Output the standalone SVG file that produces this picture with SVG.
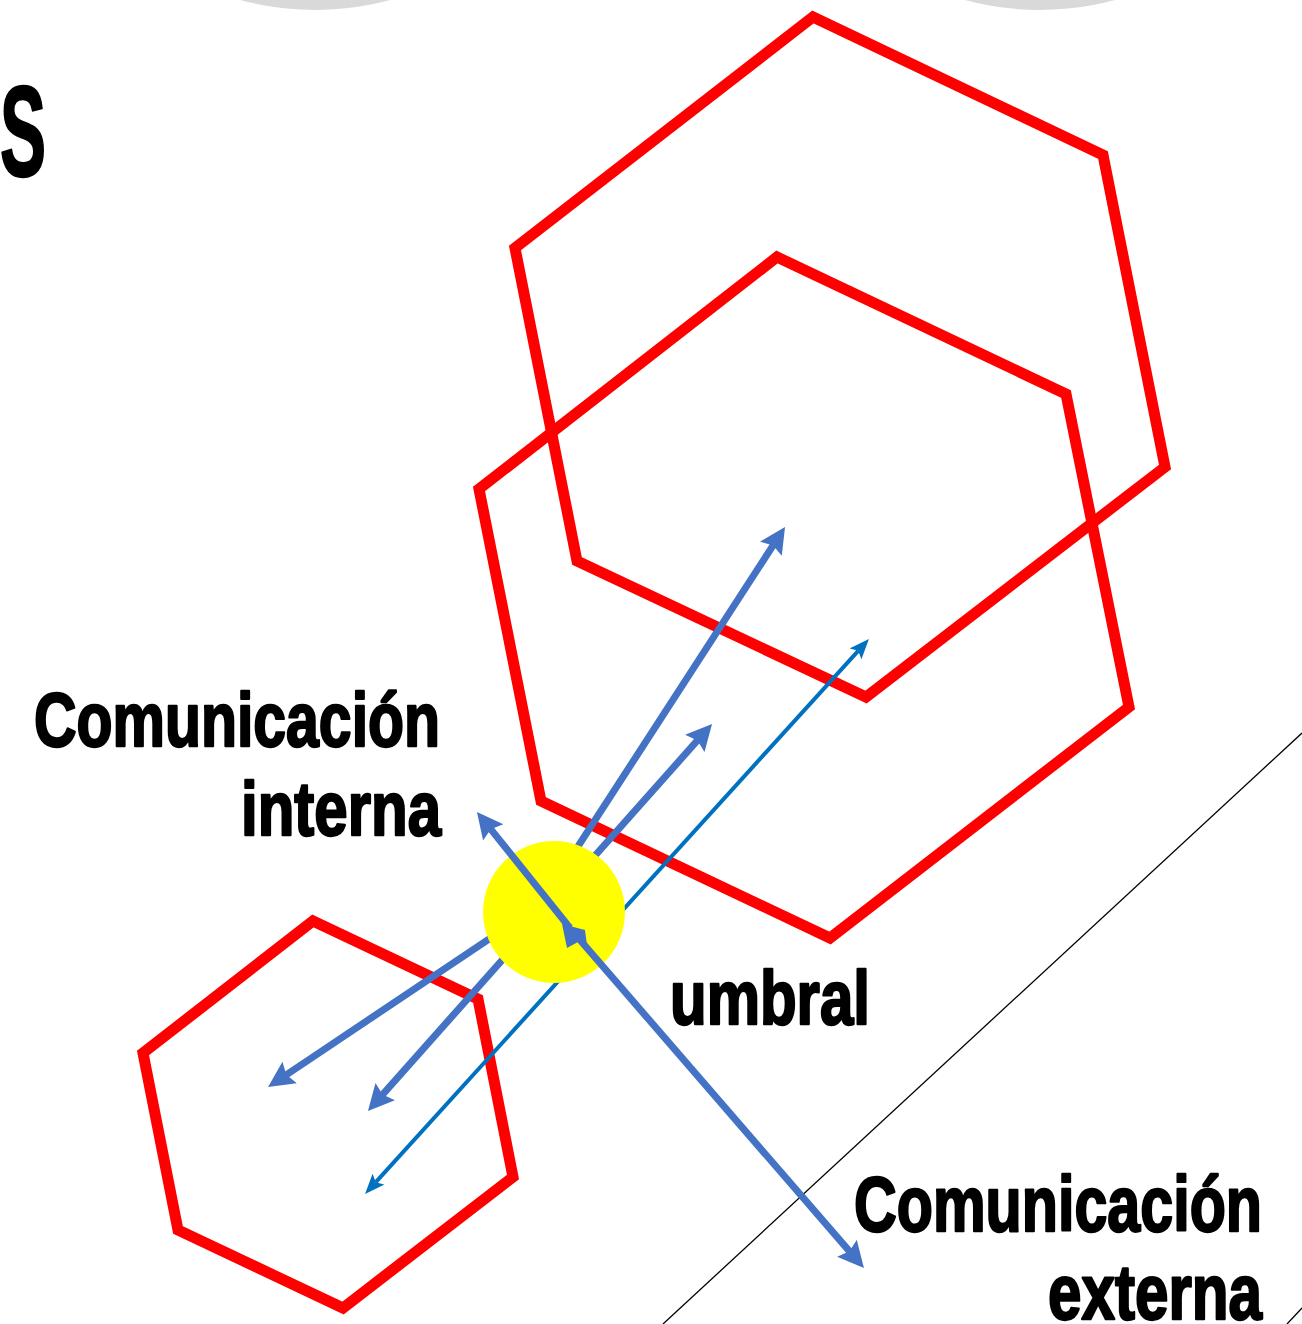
<svg xmlns="http://www.w3.org/2000/svg" width="1302" height="1324" viewBox="0 0 1302 1324">
  <style>
    .hex { fill: none; stroke: #FF0000; stroke-width: 11; stroke-linejoin: miter; }
    .arr { fill: none; stroke: #4472C4; stroke-width: 7; }
    .thin { fill: none; stroke: #0070C0; stroke-width: 4; }
    .lbl { font-family: "Liberation Sans", Arial, sans-serif; font-weight: bold; fill: #000; stroke: #000; stroke-width: 2.4; stroke-linejoin: round; }
    .rule { stroke: #000; stroke-width: 1.3; fill: none; }
  </style>
  <defs>
    <marker id="headBlue" markerUnits="userSpaceOnUse" markerWidth="30" markerHeight="28" refX="5" refY="13" orient="auto-start-reverse" viewBox="0 0 30 28">
      <path d="M0,0 L26,13 L0,26 L4,13 Z" fill="#4472C4"/>
    </marker>
    <marker id="headThin" markerUnits="userSpaceOnUse" markerWidth="22" markerHeight="18" refX="4" refY="8" orient="auto-start-reverse" viewBox="0 0 22 18">
      <path d="M0,0 L20,8 L0,16 L4,8 Z" fill="#0070C0"/>
    </marker>
  </defs>
  <rect width="1302" height="1324" fill="#FFFFFF"/>

  <g id="background">
    <circle cx="315" cy="-276" r="286" fill="#D9D9D9"/>
    <circle cx="1040" cy="-276" r="286" fill="#D9D9D9"/>
    <text class="lbl" x="0" y="176" font-size="128" textLength="46" lengthAdjust="spacingAndGlyphs">S</text>
    <line class="rule" x1="663" y1="1324" x2="1302" y2="733"/>
    <line class="rule" x1="1287" y1="1324" x2="1302" y2="1308"/>
  </g>

  <g id="hex-top">
    <polygon class="hex" points="813,17 1103,155 1165,467 866,697 577,561 515,248"/>
  </g>
  <g id="hex-middle">
    <polygon class="hex" points="777,257 1066,394 1129,707 830,938 541,801 479,489"/>
  </g>
  <g id="hex-small">
    <polygon class="hex" points="313,921 478,999 513,1177 343,1308 178,1230 143,1053"/>
  </g>

  <g id="connectors">
    <line class="arr" x1="540" y1="905" x2="285.5" y2="1075.3" marker-end="url(#headBlue)"/>
    <line class="arr" x1="540" y1="905" x2="773.6" y2="544.6" marker-end="url(#headBlue)"/>
    <line class="arr" x1="381.9" y1="1095.3" x2="698.1" y2="739.7" marker-start="url(#headBlue)" marker-end="url(#headBlue)"/>
    <line class="thin" x1="375.8" y1="1182.2" x2="858.2" y2="650.8" marker-start="url(#headThin)" marker-end="url(#headThin)"/>
  </g>

  <g id="umbral">
    <circle cx="554" cy="912" r="71" fill="#FFFF00"/>
  </g>

  <g id="connectors-external">
    <line class="arr" x1="570" y1="928" x2="490.1" y2="828.4" marker-end="url(#headBlue)"/>
    <line class="arr" x1="580" y1="940" x2="850.2" y2="1252.1" marker-end="url(#headBlue)"/>
    <polygon points="562,924 585,930 588,953 578,942 567,948" fill="#4472C4"/>
  </g>

  <g id="labels">
    <text class="lbl" x="34" y="746" font-size="76" textLength="406" lengthAdjust="spacingAndGlyphs">Comunicación</text>
    <text class="lbl" x="241" y="835" font-size="76" textLength="200" lengthAdjust="spacingAndGlyphs">interna</text>
    <text class="lbl" x="670" y="1024" font-size="76" textLength="200" lengthAdjust="spacingAndGlyphs">umbral</text>
    <text class="lbl" x="854" y="1231" font-size="78" textLength="408" lengthAdjust="spacingAndGlyphs">Comunicación</text>
    <text class="lbl" x="1048" y="1319" font-size="78" textLength="214" lengthAdjust="spacingAndGlyphs">externa</text>
  </g>
</svg>
